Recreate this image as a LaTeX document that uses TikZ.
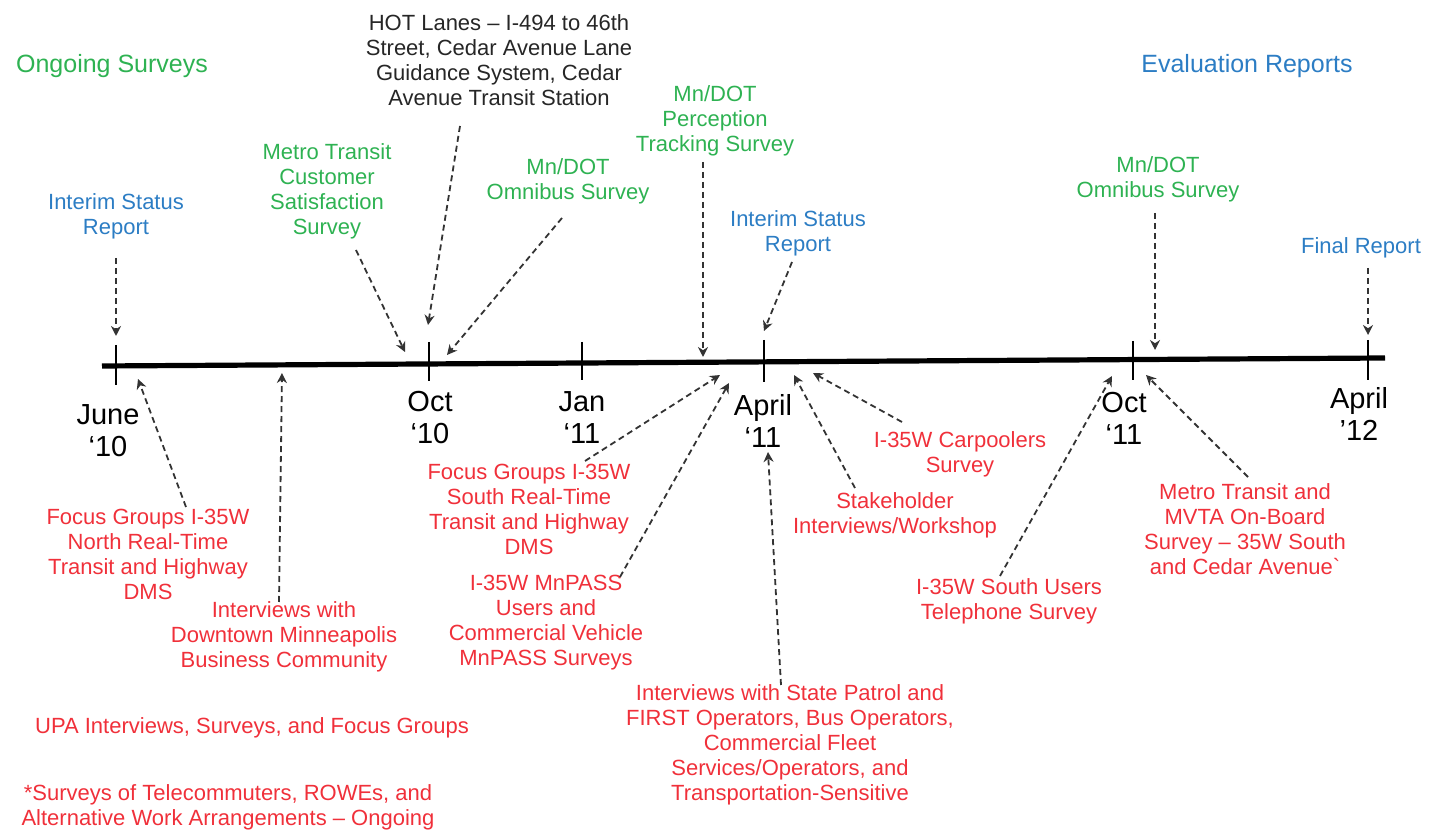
\documentclass[tikz,border=0pt]{standalone}
\usepackage{fontspec}
\setmainfont{Liberation Sans}
\usetikzlibrary{arrows.meta}
\definecolor{ggreen}{RGB}{46,178,82}
\definecolor{bblue}{RGB}{44,125,196}
\definecolor{rred}{RGB}{240,48,58}
\begin{document}
\begin{tikzpicture}[x=0.5pt,y=-0.5pt,
  lbl/.style={align=center,inner sep=0pt,font=\fontsize{11}{12.5}\selectfont},
  head/.style={align=center,inner sep=0pt,font=\fontsize{12.5}{14}\selectfont},
  gl/.style={lbl,text=ggreen},
  bl/.style={lbl,text=bblue},
  rl/.style={lbl,text=rred},
  kl/.style={lbl,text=black!85},
  datelbl/.style={align=center,inner sep=0pt,font=\fontsize{14.5}{16}\selectfont},
  conn/.style={draw=black!80,line width=0.9pt,dash pattern=on 3pt off 2pt,-{Stealth[length=5pt,width=5pt]}},
  tickline/.style={line width=0.8pt},
  axis/.style={line width=2.6pt}]
\useasboundingbox (0,0) rectangle (1437,833);

% timeline
\coordinate (tlL) at (102,366);
\coordinate (tlR) at (1385,358);
\draw[axis] (tlL) -- (tlR);
\draw[tickline] (116,345) -- (116,385);
\draw[tickline] (429,342) -- (429,381);
\draw[tickline] (582,342) -- (582,380);
\draw[tickline] (764,340) -- (764,382);
\draw[tickline] (1133,341) -- (1133,380);
\draw[tickline] (1368,340) -- (1368,380);

% date labels
\node[datelbl] (d1) at (108,431) {June\\‘10};
\node[datelbl] (d2) at (430,418) {Oct\\‘10};
\node[datelbl] (d3) at (582,418) {Jan\\‘11};
\node[datelbl] (d4) at (763,421) {April\\‘11};
\node[datelbl] (d5) at (1124,418) {Oct\\‘11};
\node[datelbl] (d6) at (1359,414) {April\\’12};

% headings
\node[head,text=ggreen] (ongoing) at (112,66) {Ongoing Surveys};
\node[head,text=bblue] (evalrep) at (1247,66) {Evaluation Reports};

% upper labels
\node[bl] (isr1) at (116,216) {Interim Status\\Report};
\node[kl] (hot) at (499,60) {HOT Lanes – I-494 to 46th\\Street, Cedar Avenue Lane\\Guidance System, Cedar\\Avenue Transit Station};
\node[gl] (mtcss) at (327,191) {Metro Transit\\Customer\\Satisfaction\\Survey};
\node[gl] (omni1) at (568,181) {Mn/DOT\\Omnibus Survey};
\node[gl] (pts) at (715,121) {Mn/DOT\\Perception\\Tracking Survey};
\node[bl] (isr2) at (798,233) {Interim Status\\Report};
\node[gl] (omni2) at (1158,179) {Mn/DOT\\Omnibus Survey};
\node[bl] (final) at (1361,248) {Final Report};

% lower labels
\node[rl] (fgn) at (148,554) {Focus Groups I-35W\\North Real-Time\\Transit and Highway\\DMS};
\node[rl] (idm) at (284,637) {Interviews with\\Downtown Minneapolis\\Business Community};
\node[rl] (upa) at (252,728) {UPA Interviews, Surveys, and Focus Groups};
\node[rl] (tele) at (228,807) {*Surveys of Telecommuters, ROWEs, and\\Alternative Work Arrangements – Ongoing};
\node[rl] (fgs) at (529,509) {Focus Groups I-35W\\South Real-Time\\Transit and Highway\\DMS};
\node[rl] (mnpass) at (546,623) {I-35W MnPASS\\Users and\\Commercial Vehicle\\MnPASS Surveys};
\node[rl] (isp) at (790,745) {Interviews with State Patrol and\\FIRST Operators, Bus Operators,\\Commercial Fleet\\Services/Operators, and\\Transportation-Sensitive};
\node[rl] (stake) at (895,515) {Stakeholder\\Interviews/Workshop};
\node[rl] (carp) at (960,454) {I-35W Carpoolers\\Survey};
\node[rl] (south) at (1009,601) {I-35W South Users\\Telephone Survey};
\node[rl] (mvta) at (1245,529) {Metro Transit and\\MVTA On-Board\\Survey – 35W South\\and Cedar Avenue\textasciigrave};

% arrow ends
\coordinate (s1) at (116,258);   \coordinate (e1) at (116,336);
\coordinate (s2) at (460,126);   \coordinate (e2) at (428,325);
\coordinate (s3) at (356,250);   \coordinate (e3) at (405,352);
\coordinate (s4) at (562,218);   \coordinate (e4) at (447,355);
\coordinate (s5) at (703,162);   \coordinate (e5) at (703,357);
\coordinate (s6) at (792,262);   \coordinate (e6) at (764,331);
\coordinate (s7) at (1155,213);  \coordinate (e7) at (1155,350);
\coordinate (s8) at (1368,268);  \coordinate (e8) at (1368,335);
\coordinate (s9) at (186,507);   \coordinate (e9) at (138,379);
\coordinate (s10) at (279,602);  \coordinate (e10) at (282,373);
\coordinate (s11) at (585,461);  \coordinate (e11) at (720,375);
\coordinate (s12) at (620,577);  \coordinate (e12) at (729,383);
\coordinate (s13) at (781,685);  \coordinate (e13) at (768,452);
\coordinate (s14) at (855,488);  \coordinate (e14) at (794,375);
\coordinate (s15) at (902,422);  \coordinate (e15) at (813,373);
\coordinate (s16) at (1000,576); \coordinate (e16) at (1112,376);
\coordinate (s17) at (1248,477); \coordinate (e17) at (1146,375);

\foreach \i in {1,...,17} {\draw[conn] (s\i) -- (e\i);}
\end{tikzpicture}
\end{document}
